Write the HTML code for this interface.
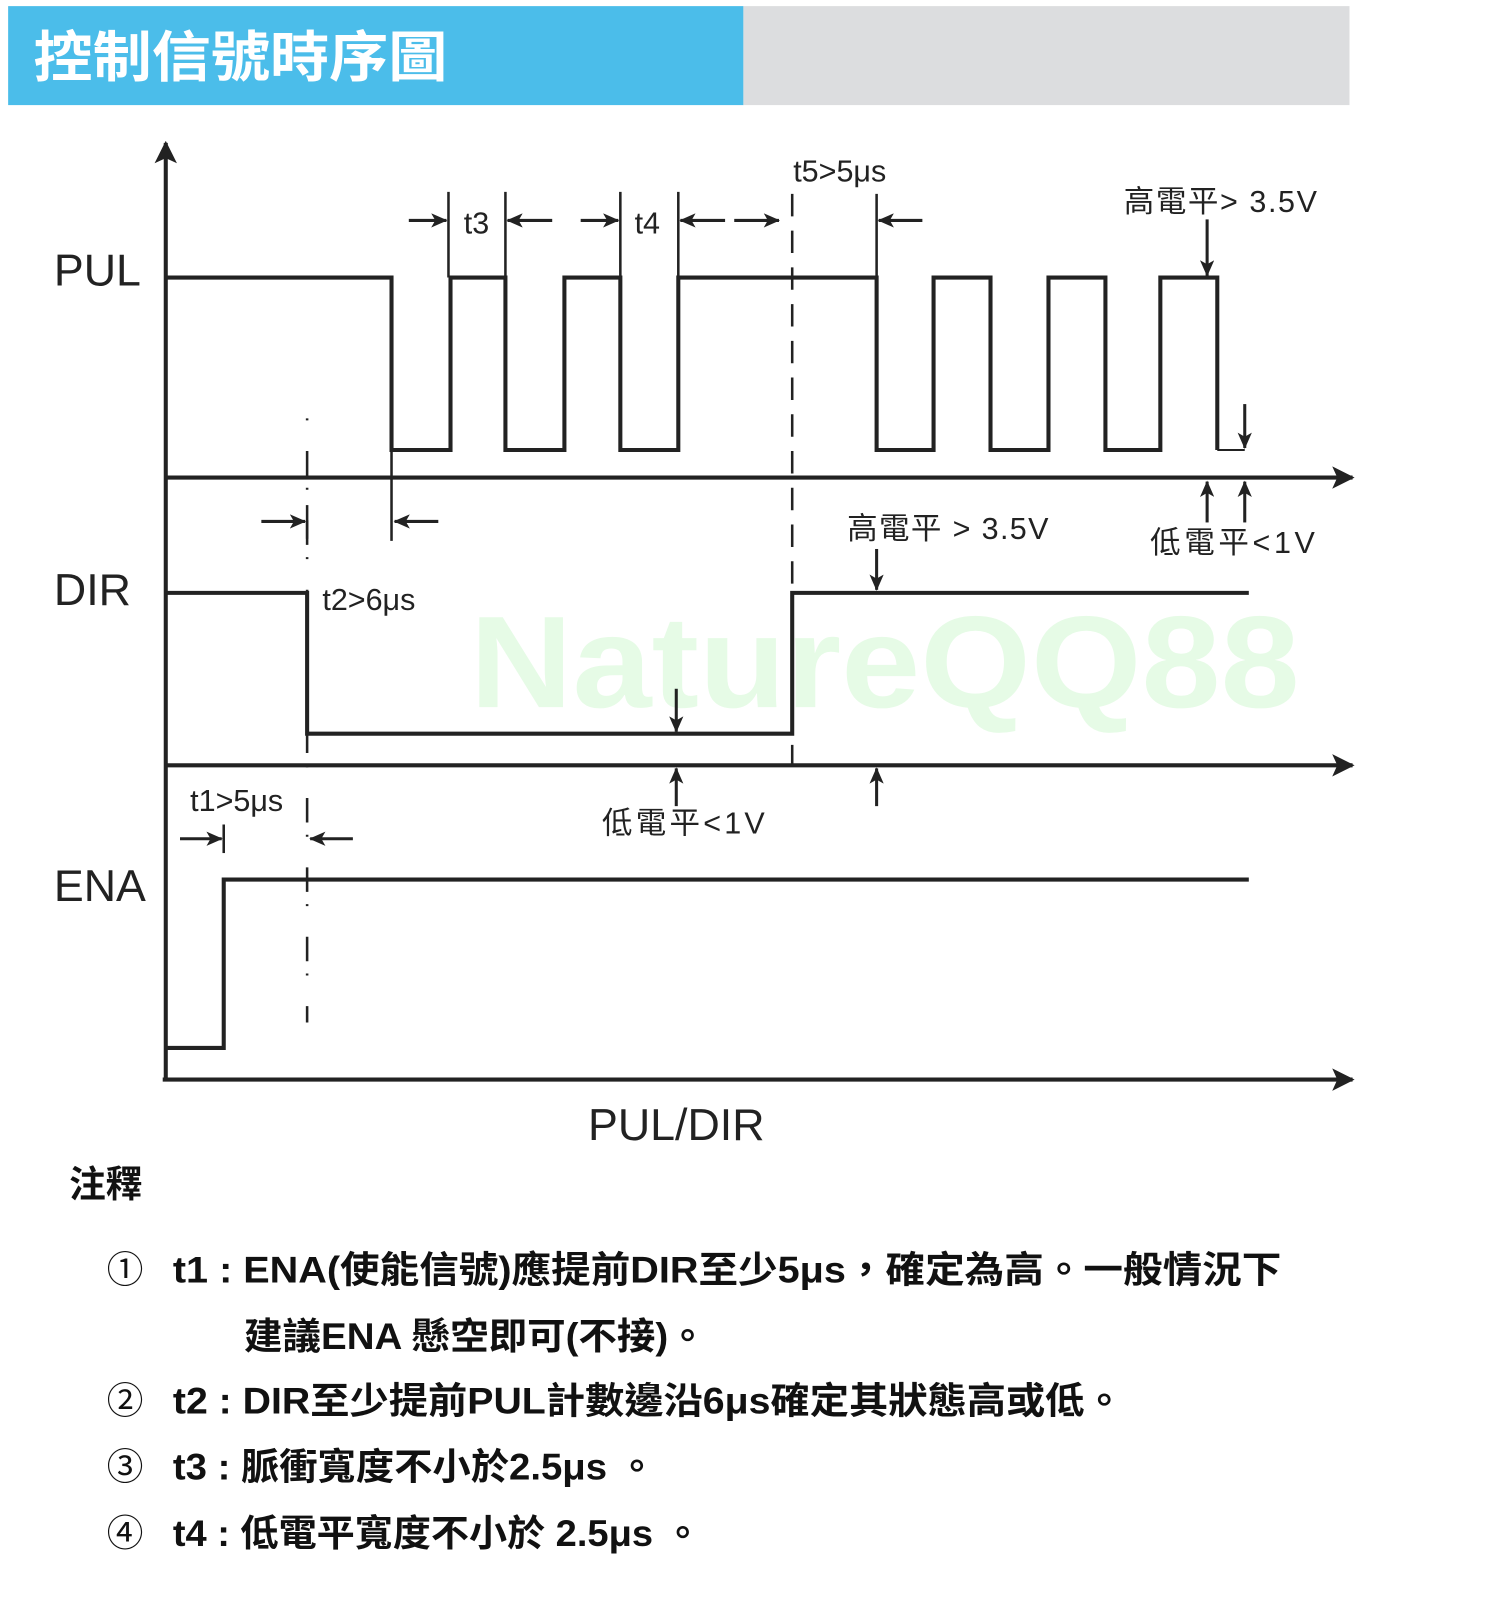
<!DOCTYPE html>
<html><head><meta charset="utf-8"><style>
html,body{margin:0;padding:0;background:#fff;}
svg{display:block;}
text{font-family:"Liberation Sans","Noto Sans CJK TC",sans-serif;}
</style></head><body>
<svg width="1500" height="1600" viewBox="0 0 1475 1568" preserveAspectRatio="none" xmlns="http://www.w3.org/2000/svg">
<defs>
<marker id="ah" markerWidth="16" markerHeight="14" refX="15" refY="7" orient="auto" markerUnits="userSpaceOnUse" viewBox="0 0 16 14">
<path d="M0,0 L16,7 L0,14 L4,7 Z" fill="#222"/></marker>
<marker id="ab" markerWidth="22" markerHeight="22" refX="20" refY="11" orient="auto" markerUnits="userSpaceOnUse" viewBox="0 0 22 22">
<path d="M0,0 L22,11 L0,22 L5,11 Z" fill="#222"/></marker>
</defs>
<rect x="8" y="6" width="723" height="97" fill="#4bbdea"/>
<rect x="731" y="6" width="596" height="97" fill="#dcdddf"/>
<text x="33" y="75" font-size="54" font-weight="bold" fill="#fff" textLength="407" lengthAdjust="spacingAndGlyphs">控制信號時序圖</text>

<text x="462" y="693" font-size="128" font-weight="bold" fill="#e6fbe6" textLength="816" lengthAdjust="spacingAndGlyphs">NatureQQ88</text>

<g stroke="#222" fill="none" stroke-width="4">
<line x1="163" y1="1058" x2="163" y2="140" marker-end="url(#ab)"/>
<line x1="163" y1="468" x2="1330" y2="468" marker-end="url(#ab)"/>
<line x1="163" y1="750" x2="1330" y2="750" marker-end="url(#ab)"/>
<line x1="160" y1="1058" x2="1330" y2="1058" marker-end="url(#ab)"/>
<polyline points="163,272 385,272 385,441 443,441 443,272 497,272 497,441 555,441 555,272 610,272 610,441 667,441 667,272 862,272 862,441 918,441 918,272 974,272 974,441 1031,441 1031,272 1087,272 1087,441 1141,441 1141,272 1197,272 1197,441"/>
<polyline points="163,581 302,581 302,719 779,719 779,581 1228,581"/>
<polyline points="163,1027 220,1027 220,862 1228,862"/>
</g>
<line x1="1197" y1="441" x2="1224" y2="441" stroke="#222" stroke-width="2"/>
<g stroke="#222" stroke-width="2.5" fill="none">
<line x1="779" y1="190" x2="779" y2="750" stroke-dasharray="22,14"/>
<line x1="302" y1="410" x2="302" y2="1002" stroke-dasharray="2,30,24,12"/>
<line x1="441" y1="188" x2="441" y2="272"/><line x1="497" y1="188" x2="497" y2="272"/>
<line x1="610" y1="188" x2="610" y2="272"/><line x1="667" y1="188" x2="667" y2="272"/>
<line x1="862" y1="190" x2="862" y2="272"/>
<line x1="385" y1="441" x2="385" y2="530"/>
<line x1="302" y1="495" x2="302" y2="528"/>
<line x1="220" y1="808" x2="220" y2="836"/>
</g>
<g stroke="#222" stroke-width="3" fill="none" marker-end="url(#ah)">
<line x1="402" y1="216" x2="439" y2="216"/>
<line x1="543" y1="216" x2="499" y2="216"/>
<line x1="571" y1="216" x2="608" y2="216"/>
<line x1="713" y1="216" x2="669" y2="216"/>
<line x1="722" y1="216" x2="766" y2="216"/>
<line x1="907" y1="216" x2="864" y2="216"/>
<line x1="1187" y1="215" x2="1187" y2="270"/>
<line x1="1224" y1="396" x2="1224" y2="439"/>
<line x1="1187" y1="512" x2="1187" y2="472"/>
<line x1="1224" y1="512" x2="1224" y2="472"/>
<line x1="257" y1="511" x2="300" y2="511"/>
<line x1="431" y1="511" x2="388" y2="511"/>
<line x1="862" y1="538" x2="862" y2="578"/>
<line x1="665" y1="675" x2="665" y2="717"/>
<line x1="665" y1="790" x2="665" y2="753"/>
<line x1="862" y1="790" x2="862" y2="753"/>
<line x1="177" y1="822" x2="218" y2="822"/>
<line x1="347" y1="822" x2="305" y2="822"/>
</g>
<g fill="#222" font-size="30">
<text x="456" y="229">t3</text>
<text x="624" y="229">t4</text>
<text x="780" y="178">t5&gt;5μs</text>
<text x="1105" y="208" textLength="190">高電平&gt; 3.5V</text>
<text x="1131" y="542" textLength="162">低電平&lt;1V</text>
<text x="833" y="528" textLength="198">高電平 &gt; 3.5V</text>
<text x="317" y="598">t2&gt;6μs</text>
<text x="592" y="817" textLength="160">低電平&lt;1V</text>
<text x="187" y="795">t1&gt;5μs</text>
<text x="53" y="280" font-size="44">PUL</text>
<text x="53" y="593" font-size="44">DIR</text>
<text x="53" y="883" font-size="44">ENA</text>
<text x="665" y="1117" font-size="44" text-anchor="middle">PUL/DIR</text>
</g>
<g fill="#111" font-size="36" font-weight="bold">
<text x="68" y="1173">注釋</text>
<text x="105" y="1257" font-weight="normal">①</text>
<text x="170" y="1257" textLength="1090" lengthAdjust="spacingAndGlyphs">t1 : ENA(使能信號)應提前DIR至少5μs，確定為高。一般情況下</text>
<text x="240" y="1322" textLength="455" lengthAdjust="spacingAndGlyphs">建議ENA 懸空即可(不接)。</text>
<text x="105" y="1385" font-weight="normal">②</text>
<text x="170" y="1385" textLength="935" lengthAdjust="spacingAndGlyphs">t2 : DIR至少提前PUL計數邊沿6μs確定其狀態高或低。</text>
<text x="105" y="1450" font-weight="normal">③</text>
<text x="170" y="1450" textLength="475" lengthAdjust="spacingAndGlyphs">t3 : 脈衝寬度不小於2.5μs 。</text>
<text x="105" y="1515" font-weight="normal">④</text>
<text x="170" y="1515" textLength="520" lengthAdjust="spacingAndGlyphs">t4 : 低電平寬度不小於 2.5μs 。</text>
</g>
</svg>
</body></html>
